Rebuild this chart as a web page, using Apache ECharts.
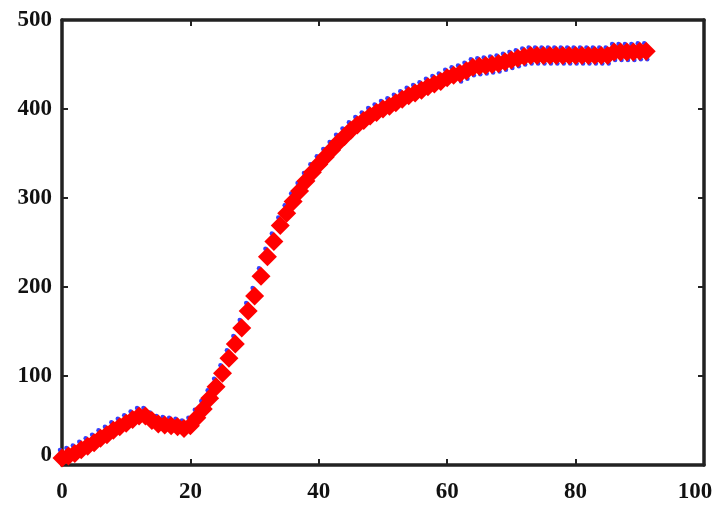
<!DOCTYPE html>
<html>
<head>
<meta charset="utf-8">
<script src="https://cdn.jsdelivr.net/npm/echarts@6/dist/echarts.min.js"></script>
<style>
  html, body { margin: 0; padding: 0; background: #ffffff; }
  #chart { width: 716px; height: 510px; }
</style>
</head>
<body>
<div id="chart"></div>
<script>
// Sample times (x) and measured response (y)
const timeSteps = [
  0, 1, 2, 3, 4, 5, 6, 7, 8, 9,
  10, 11, 12, 13, 14, 15, 16, 17, 18, 19,
  20, 21, 22, 23, 24, 25, 26, 27, 28, 29,
  30, 31, 32, 33, 34, 35, 36, 37, 38, 39,
  40, 41, 42, 43, 44, 45, 46, 47, 48, 49,
  50, 51, 52, 53, 54, 55, 56, 57, 58, 59,
  60, 61, 62, 63, 64, 65, 66, 67, 68, 69,
  70, 71, 72, 73, 74, 75, 76, 77, 78, 79,
  80, 81, 82, 83, 84, 85, 86, 87, 88, 89,
  90, 91
];
const response = [
  8, 10, 13, 17, 21, 25, 30, 34, 39, 43,
  47, 51, 55, 55, 50, 46, 45, 44, 43, 41,
  44, 53, 63, 75, 88, 103, 120, 136, 154, 173,
  190, 212, 234, 251, 269, 283, 296, 308, 319, 329,
  338, 346, 354, 362, 369, 376, 382, 387, 392, 396,
  400, 403, 407, 411, 415, 418, 421, 425, 428, 431,
  435, 438, 440, 443, 447, 448, 449, 450, 451, 453,
  455, 457, 459, 460, 460, 460, 460, 460, 460, 460,
  460, 460, 460, 460, 460, 460, 464, 464, 464, 464,
  465, 465
];
const xTicks = [0, 20, 40, 60, 80, 100];
const yTicks = [0, 100, 200, 300, 400, 500];

const points = timeSteps.map((t, i) => [t, response[i]]);
const plateauPoints = points.filter(p => p[0] >= 62);

const frameLine = { show: true, onZero: false, lineStyle: { color: '#222', width: 3.5 } };
const innerTick = { show: true, inside: true, length: 6, lineStyle: { color: '#222', width: 2 } };
const labelFont = {
  fontFamily: '"Liberation Serif", "Times New Roman", serif',
  fontWeight: 'bold',
  fontSize: 23,
  color: '#111'
};

const chart = echarts.init(document.getElementById('chart'));
chart.setOption({
  animation: false,
  backgroundColor: '#ffffff',
  grid: { left: 62, right: 12, top: 20, bottom: 45 },
  xAxis: [
    {
      type: 'value', position: 'bottom', min: 0, max: 100,
      axisLine: frameLine,
      axisTick: Object.assign({ customValues: xTicks }, innerTick),
      splitLine: { show: false },
      axisLabel: Object.assign({
        customValues: xTicks,
        margin: 16,
        formatter: v => v === 100 ? '{last|100}' : String(v),
        rich: { last: Object.assign({ padding: [0, 18, 0, 0] }, labelFont) }
      }, labelFont)
    },
    {
      type: 'value', position: 'top', min: 0, max: 100,
      axisLine: frameLine,
      axisTick: Object.assign({ customValues: xTicks }, innerTick),
      axisLabel: { show: false },
      splitLine: { show: false }
    }
  ],
  yAxis: [
    {
      type: 'value', position: 'left', min: 0, max: 500,
      axisLine: frameLine,
      axisTick: Object.assign({ customValues: yTicks }, innerTick),
      splitLine: { show: false },
      axisLabel: Object.assign({
        customValues: yTicks,
        margin: 10,
        formatter: v => v === 0 ? '{zero|0}' : String(v),
        rich: { zero: Object.assign({ padding: [0, 0, 20, 0] }, labelFont) }
      }, labelFont)
    },
    {
      type: 'value', position: 'right', min: 0, max: 500,
      axisLine: frameLine,
      axisTick: Object.assign({ customValues: yTicks }, innerTick),
      axisLabel: { show: false },
      splitLine: { show: false }
    }
  ],
  series: [
    {
      name: 'measured',
      type: 'scatter',
      data: points,
      symbol: 'circle',
      symbolSize: 4.5,
      symbolOffset: [-2, -8],
      itemStyle: { color: '#3340ff', opacity: 1 },
      z: 2
    },
    {
      name: 'measured-low',
      type: 'scatter',
      data: plateauPoints,
      symbol: 'circle',
      symbolSize: 4.5,
      symbolOffset: [1, 8],
      itemStyle: { color: '#3340ff', opacity: 1 },
      z: 2
    },
    {
      name: 'model',
      type: 'scatter',
      data: points,
      symbol: 'diamond',
      symbolSize: 19,
      itemStyle: { color: '#ff0000', opacity: 1 },
      z: 3
    }
  ]
});
</script>
</body>
</html>
